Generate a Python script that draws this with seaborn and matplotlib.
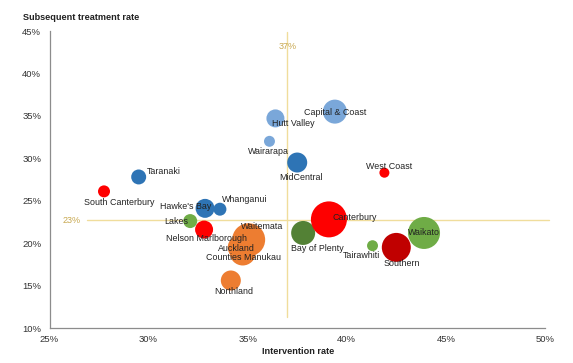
import matplotlib
matplotlib.use("Agg")
import matplotlib.pyplot as plt
import seaborn as sns
import pandas as pd

# ---- data ----
dhb = ["South Canterbury", "Taranaki", "Lakes", "Hawke's Bay", "Whanganui",
       "Nelson Marlborough", "Northland", "Counties Manukau", "Auckland", "Waitemata",
       "Wairarapa", "Hutt Valley", "MidCentral", "Capital & Coast",
       "Bay of Plenty", "Canterbury", "West Coast", "Tairawhiti", "Waikato", "Southern"]
intervention = [27.75, 29.5, 32.1, 32.85, 33.6,
                32.8, 34.15, 34.75, 34.6, 35.05,
                36.1, 36.4, 37.5, 39.4,
                37.8, 39.1, 41.9, 41.3, 43.9, 42.5]
subsequent = [26.1, 27.8, 22.6, 24.1, 24.0,
              21.6, 15.6, 18.9, 19.5, 20.4,
              32.0, 34.7, 29.5, 35.5,
              21.2, 22.8, 28.3, 19.7, 21.2, 19.5]
bubble = [36, 56, 49, 90, 42,
          81, 100, 169, 144, 272,
          30, 81, 100, 144,
          144, 324, 25, 30, 256, 210]
group = ["red", "dblue", "green", "dblue", "dblue",
         "red", "orange", "orange", "orange", "orange",
         "lblue", "lblue", "dblue", "lblue",
         "dgreen", "red", "red", "green", "green", "dred"]
ref_x = 37
ref_y = 22.7
x_ticks = [25, 30, 35, 40, 45, 50]
y_ticks = [10, 15, 20, 25, 30, 35, 40, 45]

colors = {"red": "#fe0000", "dblue": "#2e74b5", "lblue": "#7aa7d9",
          "green": "#6fac46", "dgreen": "#538135", "orange": "#ed7d31",
          "dred": "#c00000"}

# label offsets in pixels (dx, dy up), horizontal alignment
label_pos = {
    "South Canterbury": (15, -11, "center"),
    "Taranaki": (8, 5, "left"),
    "Lakes": (-2, 0, "right"),
    "Hawke's Bay": (6, 2, "right"),
    "Whanganui": (2, 10, "left"),
    "Nelson Marlborough": (2, -9, "center"),
    "Northland": (2.5, -11, "center"),
    "Counties Manukau": (1, -5, "center"),
    "Auckland": (-3, -1, "center"),
    "Waitemata": (-8, 13, "left"),
    "Wairarapa": (-1, -10, "center"),
    "Hutt Valley": (-3, -5, "left"),
    "MidCentral": (4, -15, "center"),
    "Capital & Coast": (0, -1, "center"),
    "Bay of Plenty": (14, -16, "center"),
    "Canterbury": (4, 2, "left"),
    "West Coast": (4.5, 6, "center"),
    "Tairawhiti": (8, -10, "right"),
    "Waikato": (0, 0, "center"),
    "Southern": (5, -16, "center"),
}

df = pd.DataFrame({"dhb": dhb, "x": intervention, "y": subsequent,
                   "size": bubble, "group": group})

sns.set_style("white")
plt.rcParams["font.family"] = ["Liberation Sans", "DejaVu Sans"]

dpi = 100
fig = plt.figure(figsize=(5.73, 3.63), dpi=dpi)
ax = fig.add_axes([0.0864, 0.0964, 0.8646, 0.8182])

px2pt = 72.0 / dpi
smin, smax = min(bubble), max(bubble)
k = 4 * px2pt ** 2  # area for radius^2 px
sns.scatterplot(data=df, x="x", y="y", hue="group", palette=colors,
                size="size", sizes=(k * smin, k * smax), size_norm=(smin, smax),
                linewidth=0, alpha=1, legend=False, ax=ax, zorder=3)

# reference lines
line_c = "#f0dd9c"
txt_c = "#c8a850"
ax.plot([ref_x, ref_x], [11.3, 44.9], color=line_c, lw=1.0, zorder=1)
ax.text(ref_x, 43.2, f"{ref_x}%", color=txt_c, fontsize=6.5, ha="center", va="center", zorder=2)
ax.plot([26.9, 50.2], [ref_y, ref_y], color=line_c, lw=1.0, zorder=1, clip_on=False)
ax.text(26.1, ref_y, f"{round(ref_y)}%", color=txt_c, fontsize=6.5, ha="center", va="center")

for name, xv, yv in zip(dhb, intervention, subsequent):
    dx, dy, ha = label_pos[name]
    ax.annotate(name, (xv, yv), xytext=(dx * px2pt, dy * px2pt),
                textcoords="offset points", ha=ha, va="center",
                fontsize=6.4, color="#222222", zorder=5)

ax.set_xlim(25, 50)
ax.set_ylim(10, 45)
ax.set_xticks(x_ticks)
ax.set_xticklabels([f"{t}%" for t in x_ticks])
ax.set_yticks(y_ticks)
ax.set_yticklabels([f"{t}%" for t in y_ticks])
ax.tick_params(axis="both", length=0, labelsize=6.8, colors="#333333")
ax.tick_params(axis="y", pad=6)
ax.tick_params(axis="x", pad=5)
ax.set_xlabel("")
ax.set_ylabel("")
for s in ["top", "right"]:
    ax.spines[s].set_visible(False)
for s in ["left", "bottom"]:
    ax.spines[s].set_color("#8c8c8c")
    ax.spines[s].set_linewidth(0.9)

fig.text(298 / 573, 1 - 352 / 363, "Intervention rate", ha="center", va="center",
         fontsize=6.6, fontweight="bold", color="#222222")
fig.text(23 / 573, 1 - 18 / 363, "Subsequent treatment rate", ha="left", va="center",
         fontsize=6.6, fontweight="bold", color="#222222")

fig.savefig("out.png", dpi=dpi)
